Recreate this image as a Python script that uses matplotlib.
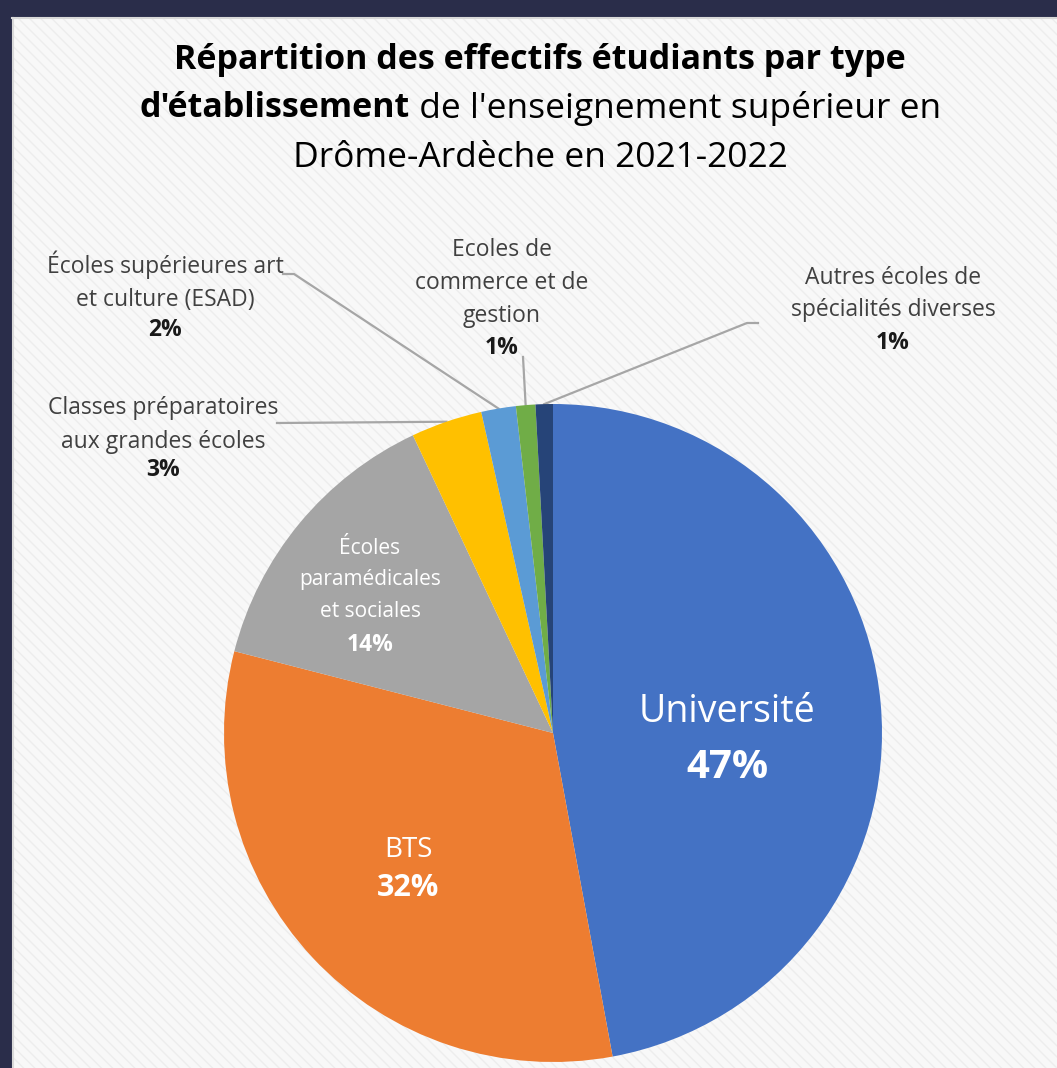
import matplotlib
matplotlib.use("Agg")
import matplotlib.pyplot as plt
from matplotlib.patches import Rectangle
import numpy as np

# data
categories = ["Université", "BTS", "Écoles\nparamédicales\net sociales",
              "Classes préparatoires\naux grandes écoles",
              "Écoles supérieures art\net culture (ESAD)",
              "Ecoles de\ncommerce et de\ngestion",
              "Autres écoles de\nspécialités diverses"]
shares = [47.1, 31.9, 14.0, 3.5, 1.7, 0.95, 0.85]
pct_labels = ["47%", "32%", "14%", "3%", "2%", "1%", "1%"]
colors = ["#4472C4", "#ED7D31", "#A5A5A5", "#FFC000", "#5B9BD5", "#70AD47", "#264478"]

W, H = 1057, 1068
CX, CY, R = 553, 733, 329   # pie centre / radius in pixels

plt.rcParams['font.family'] = ['Open Sans', 'DejaVu Sans']

fig = plt.figure(figsize=(W / 100, H / 100), dpi=100)
fig.patch.set_facecolor("#f7f7f7")

# background: light diagonal stripes + dark frame
bg = fig.add_axes([0, 0, 1, 1], zorder=-5)
bg.set_xlim(0, W)
bg.set_ylim(H, 0)
bg.axis("off")
bg.add_patch(Rectangle((0, 0), W, H, facecolor="#f8f8f8", edgecolor="#ededed",
                       hatch="\\\\\\", linewidth=0))
bg.add_patch(Rectangle((0, 0), W, 17, facecolor="#2a2d4a", edgecolor="none"))
bg.add_patch(Rectangle((0, 0), 12, H, facecolor="#2a2d4a", edgecolor="none"))
bg.plot([12, W], [18, 18], color="#d9d9d9", lw=1.5)
bg.plot([13, 13], [18, H], color="#d9d9d9", lw=1.5)


def fx(px):
    return px / W


def fy(py):
    return 1 - py / H


def to_data(px, py):
    return (px - CX) / R, (CY - py) / R


ax = fig.add_axes([fx(CX - R), fy(CY + R), 2 * R / W, 2 * R / H])
wedges, _ = ax.pie(shares, colors=colors, startangle=90, counterclock=False,
                   radius=1, wedgeprops=dict(linewidth=0))
ax.set_xlim(-1, 1)
ax.set_ylim(-1, 1)
ax.axis("off")

# title
title_l1 = "Répartition des effectifs étudiants par type"
title_l2a = "d'établissement"
title_l2b = " de l'enseignement supérieur en"
title_l3 = "Drôme-Ardèche en 2021-2022"
TB, TN = 24.5, 25.5
fig.text(fx(540), fy(60), title_l1, ha="center", va="center", fontsize=TB,
         fontweight="bold", color="black")
fig.text(fx(540), fy(158), title_l3, ha="center", va="center", fontsize=TN,
         color="black")
ta = fig.text(0, fy(108), title_l2a, ha="left", va="center", fontsize=TB,
              fontweight="bold", color="black")
tb = fig.text(0, fy(108), title_l2b, ha="left", va="center", fontsize=TN,
              color="black")
fig.canvas.draw()
rend = fig.canvas.get_renderer()
wa = ta.get_window_extent(rend).width
wb = tb.get_window_extent(rend).width
x0 = 540 - (wa + wb) / 2
ta.set_x(fx(x0))
tb.set_x(fx(x0 + wa))

# label layout (pixel centres): name block, percent line
label_pos = {
    0: (727, 712, 768),
    1: (408, 850, 888),
    2: (370, 580, 645),
    3: (163, 425, 470),
    4: (165, 281, 330),
    5: (502, 283, 348),
    6: (893, 294, 343),
}
inside = [0, 1, 2]
name_size = {0: 27, 1: 20, 2: 15}
pct_size = {0: 29, 1: 22, 2: 16.5}
OUT = 16.5

for i, (px, py_name, py_pct) in label_pos.items():
    if i in inside:
        c = "white"
        ns, ps, ls = name_size[i], pct_size[i], 1.65
    else:
        c = "#404040"
        ns, ps, ls = OUT, OUT, 1.5
    fig.text(fx(px), fy(py_name), categories[i], ha="center", va="center",
             fontsize=ns, color=c, linespacing=ls)
    fig.text(fx(px), fy(py_pct), pct_labels[i], ha="center", va="center",
             fontsize=ps, color="#1a1a1a" if i not in inside else c,
             fontweight="bold")

# leader lines: from label to the middle of the wedge rim
leader_start = {
    3: [(277, 423)],
    4: [(283, 274), (294, 274)],
    5: [(523, 357)],
    6: [(758, 323), (747, 323)],
}
for i, pts in leader_start.items():
    w = wedges[i]
    mid = np.deg2rad((w.theta1 + w.theta2) / 2)
    xs = [to_data(*p)[0] for p in pts] + [np.cos(mid)]
    ys = [to_data(*p)[1] for p in pts] + [np.sin(mid)]
    ax.plot(xs, ys, color="#a6a6a6", lw=1.6, clip_on=False, zorder=0.5)

fig.savefig("out.png", dpi=100, facecolor=fig.get_facecolor())
